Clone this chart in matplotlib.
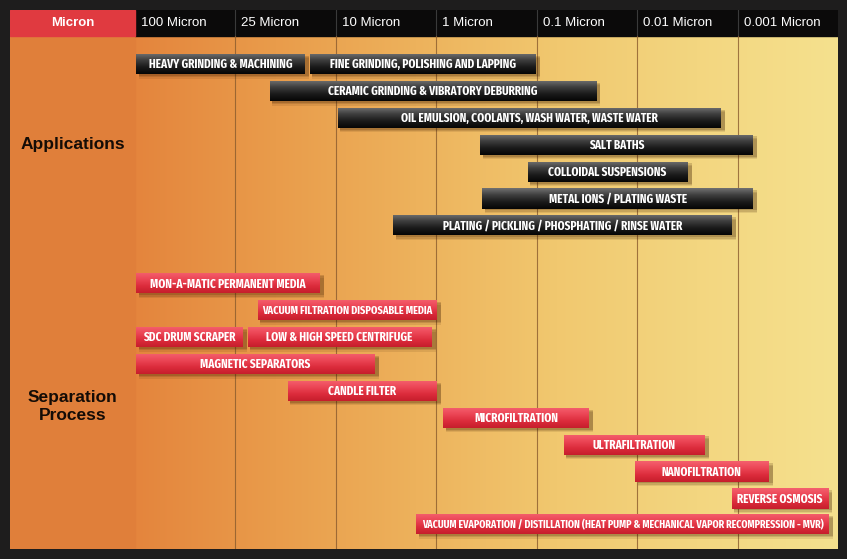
import numpy as np
import matplotlib.pyplot as plt
from matplotlib import font_manager as fm
from matplotlib.patches import Rectangle
from matplotlib.colors import LinearSegmentedColormap

# column headings (micron scale)
columns = ['100 Micron', '25 Micron', '10 Micron', '1 Micron',
           '0.1 Micron', '0.01 Micron', '0.001 Micron']

# applications (dark bars): start / end in column units, row index
app_labels = ['HEAVY GRINDING & MACHINING',
              'FINE GRINDING, POLISHING AND LAPPING',
              'CERAMIC GRINDING & VIBRATORY DEBURRING',
              'OIL EMULSION, COOLANTS, WASH WATER, WASTE WATER',
              'SALT BATHS',
              'COLLOIDAL SUSPENSIONS',
              'METAL IONS / PLATING WASTE',
              'PLATING / PICKLING / PHOSPHATING / RINSE WATER']
app_start = [0.01, 1.74, 1.34, 2.02, 3.44, 3.91, 3.46, 2.57]
app_end = [1.69, 3.99, 4.59, 5.83, 6.15, 5.50, 6.15, 5.94]
app_row = [0, 0, 1, 2, 3, 4, 5, 6]

# separation processes (red bars)
sep_labels = ['MON-A-MATIC PERMANENT MEDIA',
              'VACUUM FILTRATION DISPOSABLE MEDIA',
              'SDC DRUM SCRAPER',
              'LOW & HIGH SPEED CENTRIFUGE',
              'MAGNETIC SEPARATORS',
              'CANDLE FILTER',
              'MICROFILTRATION',
              'ULTRAFILTRATION',
              'NANOFILTRATION',
              'REVERSE OSMOSIS',
              'VACUUM EVAPORATION / DISTILLATION (HEAT PUMP & MECHANICAL VAPOR RECOMPRESSION - MVR)']
sep_start = [0.01, 1.22, 0.01, 1.12, 0.01, 1.52, 3.07, 4.27, 4.98, 5.94, 2.80]
sep_end = [1.84, 3.00, 1.07, 2.95, 2.38, 3.00, 4.52, 5.67, 6.31, 6.90, 6.91]
sep_row = [8.15, 9.15, 10.15, 10.15, 11.15, 12.15, 13.15, 14.15, 15.15, 16.15, 17.1]


def pick_narrow_bold():
    # look for an upright condensed / narrow bold face among installed fonts
    best = None
    for f in fm.fontManager.ttflist:
        if f.style != 'normal':
            continue
        w = f.weight if isinstance(f.weight, int) else fm.weight_dict.get(f.weight, 400)
        st = str(f.stretch).lower()
        nm = f.name.lower()
        narrow = 'narrow' in nm or 'condensed' in nm or 'condensed' in st
        if narrow and 600 <= w <= 800 and f.fname.lower().endswith(('.ttf', '.otf')):
            score = 2 if ('extra' in st or 'extra' in nm) else 1
            if w == 700:
                score += 0.5
            if best is None or score > best[0]:
                best = (score, f.fname)
    if best:
        return fm.FontProperties(fname=best[1])
    return fm.FontProperties(family='Roboto', weight='bold')


bar_font = pick_narrow_bold()

W, H = 847, 559
fig = plt.figure(figsize=(W / 100, H / 100), dpi=100)
fig.patch.set_facecolor('#1e1d1d')
ax = fig.add_axes([10 / W, 10 / H, 828 / W, 539 / H])
ax.set_axis_off()

x0 = -1.245
ytop, yhead, ybot = -2.007, -1.041, 18.03
ax.set_xlim(x0, 7)
ax.set_ylim(ybot, ytop)

# background gradient
bg = LinearSegmentedColormap.from_list('bg', ['#e4853d', '#e99c4b', '#edb25c',
                                              '#f1c86f', '#f3d680', '#f5e18e'])
grad = np.linspace(0, 1, 256).reshape(1, -1)
ax.imshow(grad, cmap=bg, aspect='auto', extent=(0, 7, ybot, yhead), zorder=0)
ax.add_patch(Rectangle((x0, yhead), -x0, ybot - yhead, color='#e07f3a', zorder=1))
# header
ax.add_patch(Rectangle((0, ytop), 7, yhead - ytop, color='#0b0a0a', zorder=1))
ax.add_patch(Rectangle((x0, ytop), -x0, yhead - ytop, color='#e03a40', zorder=1))
ax.text(x0 / 2, (ytop + yhead) / 2, 'Micron', color='white', fontsize=9.5,
        fontweight='bold', ha='center', va='center', family='Liberation Sans', zorder=3)
for i, c in enumerate(columns):
    ax.text(i + 0.06, (ytop + yhead) / 2, c, color='white', fontsize=9.5,
            ha='left', va='center', family='Liberation Sans', zorder=3)
for i in range(1, 7):
    ax.plot([i, i], [ytop, yhead], color='#3a3a3a', lw=0.8, zorder=2)
    ax.plot([i, i], [yhead, ybot], color='#8a5b2e', lw=0.8, alpha=0.8, zorder=2)

ax.text(x0 / 2, 3.0, 'Applications', fontsize=12.5, fontweight='bold',
        ha='center', va='center', color='#140c06', family='Liberation Sans', zorder=3)
ax.text(x0 / 2, 12.75, 'Separation\nProcess', fontsize=12.5, fontweight='bold',
        ha='center', va='center', color='#140c06', family='Liberation Sans',
        linespacing=1.25, zorder=3)

dark_cm = LinearSegmentedColormap.from_list('dk', ['#707070', '#3e3e3e', '#1a1a1a', '#050505'])
red_cm = LinearSegmentedColormap.from_list('rd', ['#f4606e', '#ec4656', '#dc2c3c', '#c61e2c'])
vgrad = np.linspace(0, 1, 64).reshape(-1, 1)
bh = 0.75
px_per_unit = 828 / (7 - x0)
renderer = fig.canvas.get_renderer()
base_size = 8.8


def draw_bars(labels, starts, ends, rows, cmap):
    for lab, s, e, r in zip(labels, starts, ends, rows):
        # soft drop shadow
        for k, a in zip([0.17, 0.12, 0.07], [0.10, 0.14, 0.18]):
            ax.add_patch(Rectangle((s + 0.025, r - bh / 2 + k), e - s + 0.02, bh,
                                   color='#3a1a00', alpha=a, lw=0, zorder=3))
        rect = Rectangle((s, r - bh / 2), e - s, bh, facecolor='none', lw=0, zorder=4)
        ax.add_patch(rect)
        im = ax.imshow(vgrad, cmap=cmap, aspect='auto',
                       extent=(s, e, r + bh / 2, r - bh / 2), zorder=4)
        im.set_clip_path(rect)
        t = ax.text((s + e) / 2, r + 0.03, lab, color='white', fontproperties=bar_font,
                    fontsize=base_size, ha='center', va='center', zorder=5)
        # shrink a label that would not fit inside its bar
        avail = (e - s) * px_per_unit - 8
        wpx = t.get_window_extent(renderer).width
        if wpx > avail:
            t.set_fontsize(base_size * avail / wpx)


draw_bars(app_labels, app_start, app_end, app_row, dark_cm)
draw_bars(sep_labels, sep_start, sep_end, sep_row, red_cm)

ax.set_xlim(x0, 7)
ax.set_ylim(ybot, ytop)
fig.savefig('out.png', dpi=100, facecolor=fig.get_facecolor())
